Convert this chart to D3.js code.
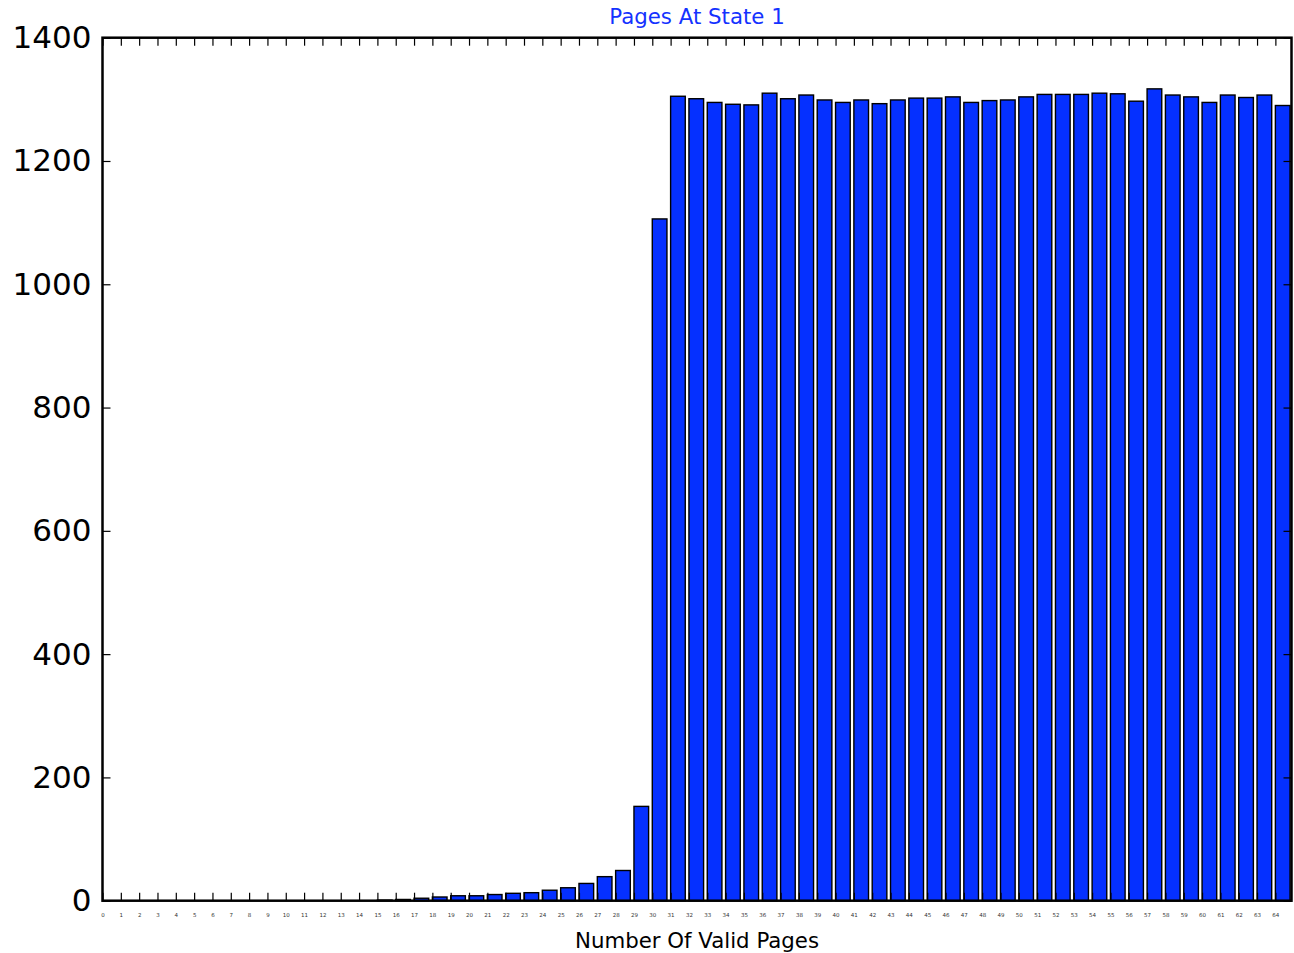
<!DOCTYPE html>
<html>
<head>
<meta charset="utf-8">
<script src="https://cdn.jsdelivr.net/npm/d3@7/dist/d3.min.js"></script>
<style>
  html, body { margin: 0; padding: 0; background: #fff; }
  svg { display: block; font-family: "DejaVu Sans", sans-serif; }
</style>
</head>
<body>
<svg id="chart" width="1294" height="953"></svg>
<script>
// ---- data ----
const categories = d3.range(0, 65);
const values = [
  0, 0, 0, 0, 0, 0, 0, 0, 0, 0,
  0, 0, 0, 0, 0, 1, 2, 4, 6, 8,
  8, 10, 12, 13, 17, 21, 28, 39, 49, 153,
  1106, 1305, 1301, 1295, 1292, 1291, 1310, 1301, 1307, 1299,
  1295, 1299, 1293, 1299, 1302, 1302, 1304, 1295, 1298, 1299,
  1304, 1308, 1308, 1308, 1310, 1309, 1297, 1317, 1307, 1304,
  1295, 1307, 1303, 1307, 1290
];
const yTicks = [0, 200, 400, 600, 800, 1000, 1200, 1400];
const titleText = "Pages At State 1";
const xLabelText = "Number Of Valid Pages";

// ---- layout ----
const padL = 102.5, padR = 1291.5, padT = 37.7, padB = 900.7;
const barWidth = 0.8;
const svg = d3.select("#chart");

const x = d3.scaleLinear().domain([0, 64.88]).range([padL, padR]);
const y = d3.scaleLinear().domain([0, 1400]).range([padB, padT]);

// bars
svg.append("g").selectAll("rect")
  .data(values)
  .join("rect")
  .attr("x", (d, i) => x(categories[i]))
  .attr("width", x(barWidth) - x(0))
  .attr("y", d => y(d))
  .attr("height", d => y(0) - y(d))
  .attr("fill", "#0530ff")
  .attr("stroke", "#000")
  .attr("stroke-width", 1.4);

// axes
const tickLen = 8;
const xBottom = d3.axisBottom(x).tickValues(categories).tickFormat(d => d).tickSizeInner(-tickLen).tickSizeOuter(0).tickPadding(tickLen + 4);
const xTop = d3.axisTop(x).tickValues(categories).tickFormat("").tickSizeInner(-tickLen).tickSizeOuter(0);
const yLeft = d3.axisLeft(y).tickValues(yTicks).tickFormat(d => d).tickSizeInner(-tickLen).tickSizeOuter(0).tickPadding(tickLen + 3);
const yRight = d3.axisRight(y).tickValues(yTicks).tickFormat("").tickSizeInner(-tickLen).tickSizeOuter(0);

function styleAxis(g) {
  g.select(".domain").remove();
  g.selectAll(".tick line").attr("stroke", "#000").attr("stroke-width", 1.2);
}

svg.append("g").attr("transform", `translate(0,${padB})`).call(xBottom).call(styleAxis)
  .selectAll("text").attr("font-size", 5.5).attr("fill", "#333").attr("font-family", "DejaVu Sans");
svg.append("g").attr("transform", `translate(0,${padT})`).call(xTop).call(styleAxis);
svg.append("g").attr("transform", `translate(${padL},0)`).call(yLeft).call(styleAxis)
  .selectAll("text").attr("font-size", 31).attr("fill", "#000").attr("font-family", "DejaVu Sans");
svg.append("g").attr("transform", `translate(${padR},0)`).call(yRight).call(styleAxis);

// frame
svg.append("rect")
  .attr("x", padL).attr("y", padT)
  .attr("width", padR - padL).attr("height", padB - padT)
  .attr("fill", "none").attr("stroke", "#000").attr("stroke-width", 2.5);

// title
svg.append("text")
  .attr("x", (padL + padR) / 2).attr("y", 23.5)
  .attr("text-anchor", "middle")
  .attr("font-size", 21.3)
  .attr("fill", "#1432ff")
  .text(titleText);

// x label
svg.append("text")
  .attr("x", (padL + padR) / 2).attr("y", 947.5)
  .attr("text-anchor", "middle")
  .attr("font-size", 21.3)
  .attr("fill", "#000")
  .text(xLabelText);
</script>
</body>
</html>
